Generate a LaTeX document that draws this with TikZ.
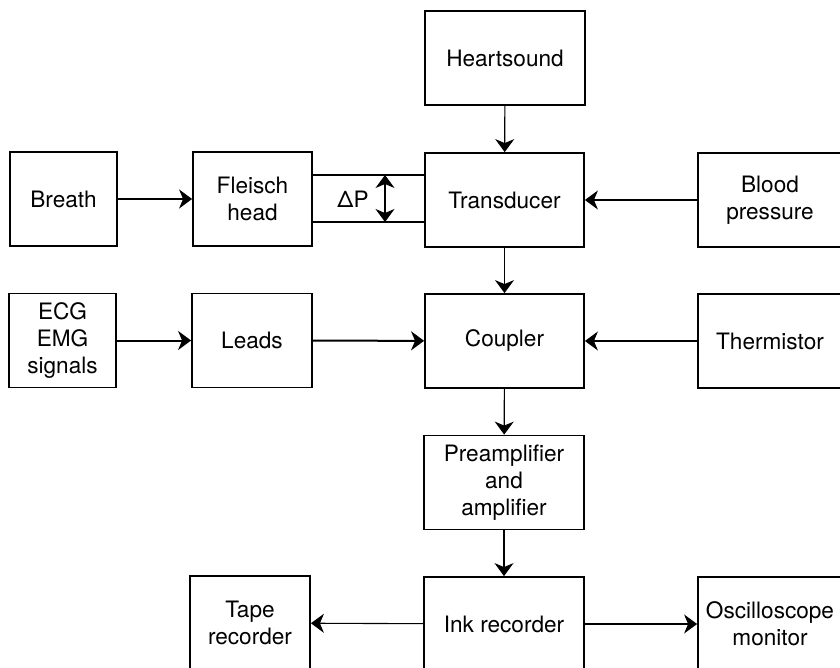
\documentclass[tikz,border=0pt]{standalone}
\usepackage{fontspec}
\setmainfont{TeX Gyre Heros}
\usetikzlibrary{arrows.meta}
\tikzset{>={Stealth[length=13pt,width=19pt,inset=4pt]}}
\tikzset{
  block/.style={draw, line width=1.8pt, minimum height=94pt, align=center,
    inner sep=0pt, font=\fontsize{22.6}{27}\selectfont},
  link/.style={->, line width=1.1pt},
  heavylink/.style={->, line width=2pt}
}

\begin{document}
\begin{tikzpicture}[x=1pt,y=-1pt]
  \useasboundingbox (0,0) rectangle (840,668);
  \clip (0,0) rectangle (840,668);
  \node[block, minimum width=160pt] (heart)   at (505,58)    {Heartsound};
  \node[block, minimum width=107pt] (breath)  at (63.5,199)  {Breath};
  \node[block, minimum width=119pt] (fleisch) at (252.5,199) {Fleisch\\head};
  \node[block, minimum width=159pt] (trans)   at (504.5,200) {Transducer};
  \node[block, minimum width=144pt] (blood)   at (770,200)   {Blood\\pressure};
  \node[block, minimum width=107pt] (ecg)     at (62.5,340.5){ECG\\EMG\\signals};
  \node[block, minimum width=120pt] (leads)   at (252,340.5) {Leads};
  \node[block, minimum width=159pt] (coupler) at (504.5,341) {Coupler};
  \node[block, minimum width=144pt] (therm)   at (770,341)   {Thermistor};
  \node[block, minimum width=160pt] (preamp)  at (504,482.5) {Preamplifier\\and\\amplifier};
  \node[block, minimum width=160pt] (ink)     at (504,624)   {Ink recorder};
  \node[block, minimum width=120pt] (tape)    at (250,623)   {Tape\\recorder};
  \node[block, minimum width=144pt] (osc)     at (770,624)   {Oscilloscope\\monitor};

  \draw[heavylink] (breath) -- (fleisch);
  \draw[heavylink] (ecg) -- (leads);
  \draw[heavylink] (leads) -- (coupler);
  \draw[link] (heart) -- (trans);
  \draw[link] (blood) -- (trans);
  \draw[link] (trans) -- (coupler);
  \draw[link] (therm) -- (coupler);
  \draw[link] (coupler) -- (preamp);
  \draw[link] (preamp) -- (ink);
  \draw[link] (ink) -- (tape);
  \draw[link] (ink) -- (osc);

  \draw[line width=1.1pt] ([yshift=24pt]fleisch.east) -- ([yshift=25pt]trans.west);
  \draw[line width=1.1pt] ([yshift=-23pt]fleisch.east) -- ([yshift=-22pt]trans.west);
  \coordinate (dptop) at (385,175);
  \coordinate (dpbot) at (385,222);
  \draw[<->, line width=1.1pt] (dptop) -- (dpbot);
  \node[font=\fontsize{22.6}{27}\selectfont] (dp) at (353,199) {ΔP};
\end{tikzpicture}
\end{document}
